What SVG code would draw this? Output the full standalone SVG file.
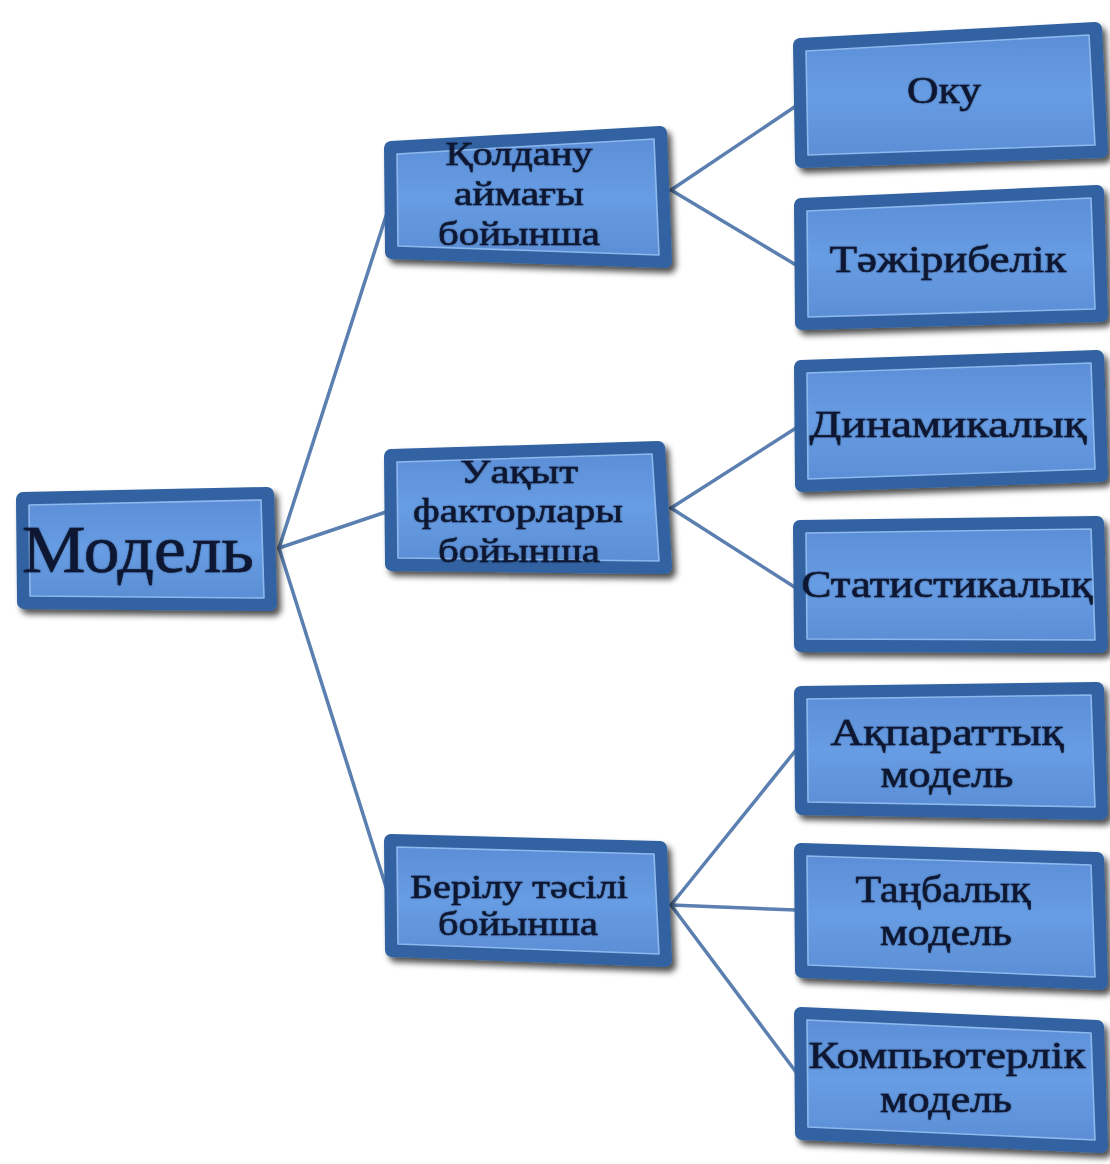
<svg xmlns="http://www.w3.org/2000/svg" width="1110" height="1164" viewBox="0 0 1110 1164">
<defs>
<linearGradient id="gOuter" x1="0" y1="0" x2="0.15" y2="1">
<stop offset="0" stop-color="#5286c8"/>
<stop offset="0.5" stop-color="#3b6cad"/>
<stop offset="1" stop-color="#22487f"/>
</linearGradient>
<linearGradient id="gFace" x1="0" y1="0" x2="0" y2="1">
<stop offset="0" stop-color="#5b8ed6"/>
<stop offset="0.5" stop-color="#679de4"/>
<stop offset="1" stop-color="#5b8ed5"/>
</linearGradient>
<filter id="shadow" x="-10%" y="-10%" width="125%" height="130%">
<feGaussianBlur in="SourceAlpha" stdDeviation="3"/>
<feOffset dx="4" dy="5" result="b"/>
<feComponentTransfer><feFuncA type="linear" slope="0.7"/></feComponentTransfer>
<feMerge><feMergeNode/><feMergeNode in="SourceGraphic"/></feMerge>
</filter>
<filter id="glow" x="-5%" y="-20%" width="110%" height="140%">
<feGaussianBlur in="SourceAlpha" stdDeviation="1.2"/>
<feComponentTransfer><feFuncA type="linear" slope="0.35"/></feComponentTransfer>
<feMerge><feMergeNode/><feMergeNode in="SourceGraphic"/></feMerge>
</filter>
</defs>
<style>
.outer{fill:url(#gOuter);stroke:#3062a2;stroke-width:14;stroke-linejoin:round;filter:url(#shadow)}
.face{fill:url(#gFace);stroke:#8db8ee;stroke-width:1.6;stroke-linejoin:round}
.t{font-family:"Liberation Serif","Times New Roman",serif;fill:#0c1730;stroke:#0c1730;stroke-width:0.6;text-anchor:middle;filter:url(#glow)}
.m{font-size:34px}
.r{font-size:37px}
.big{font-size:68px}
.conn line{stroke:#5a7fb0;stroke-width:3.5;stroke-linecap:round}
</style>
<rect width="1110" height="1164" fill="#ffffff"/>
<g id="connectors" class="conn">
<line x1="279" y1="548" x2="386" y2="216"/>
<line x1="279" y1="548" x2="386" y2="512"/>
<line x1="279" y1="548" x2="386" y2="887"/>
<line x1="671" y1="190" x2="796" y2="106"/>
<line x1="671" y1="190" x2="796" y2="265"/>
<line x1="671" y1="508" x2="796" y2="428"/>
<line x1="671" y1="508" x2="796" y2="588"/>
<line x1="671" y1="905" x2="796" y2="750"/>
<line x1="671" y1="905" x2="796" y2="910"/>
<line x1="671" y1="905" x2="796" y2="1072"/>
</g>
<g id="n-model">
<polygon class="outer" points="23,499 267,494 270,604 24,602"/>
<polygon class="face" points="29,505 261,500 264,598 30,596"/>
<text class="t big" x="138" y="572" textLength="232" lengthAdjust="spacingAndGlyphs">Модель</text>
</g>
<g id="n-qoldanu">
<polygon class="outer" points="391,148 660,133 665,261 392,252"/>
<polygon class="face" points="397,154 654,139 659,255 398,246"/>
<text class="t m" x="519" y="165" textLength="147" lengthAdjust="spacingAndGlyphs">Қолдану</text>
<text class="t m" x="519" y="205" textLength="130" lengthAdjust="spacingAndGlyphs">аймағы</text>
<text class="t m" x="519" y="245" textLength="162" lengthAdjust="spacingAndGlyphs">бойынша</text>
</g>
<g id="n-uaqyt">
<polygon class="outer" points="391,456 658,448 665,567 392,564"/>
<polygon class="face" points="397,462 652,454 659,561 398,558"/>
<text class="t m" x="519" y="483" textLength="118" lengthAdjust="spacingAndGlyphs">Уақыт</text>
<text class="t m" x="518" y="522" textLength="210" lengthAdjust="spacingAndGlyphs">факторлары</text>
<text class="t m" x="519" y="562" textLength="162" lengthAdjust="spacingAndGlyphs">бойынша</text>
</g>
<g id="n-berilu">
<polygon class="outer" points="391,841 660,848 665,960 392,950"/>
<polygon class="face" points="397,847 654,854 659,954 398,944"/>
<text class="t m" x="519" y="898" textLength="218" lengthAdjust="spacingAndGlyphs">Берілу тәсілі</text>
<text class="t m" x="518" y="935" textLength="160" lengthAdjust="spacingAndGlyphs">бойынша</text>
</g>
<g id="n-oku">
<polygon class="outer" points="800,45 1095,29 1101,151 802,161"/>
<polygon class="face" points="806,51 1089,35 1095,145 808,155"/>
<text class="t r" x="944" y="103" textLength="74" lengthAdjust="spacingAndGlyphs">Оку</text>
</g>
<g id="n-tazhiribelik">
<polygon class="outer" points="801,205 1097,192 1101,315 802,323"/>
<polygon class="face" points="807,211 1091,198 1095,309 808,317"/>
<text class="t r" x="948" y="272" textLength="237" lengthAdjust="spacingAndGlyphs">Тәжірибелік</text>
</g>
<g id="n-dinamikalyq">
<polygon class="outer" points="801,367 1097,357 1101,475 802,485"/>
<polygon class="face" points="807,373 1091,363 1095,469 808,479"/>
<text class="t r" x="948" y="437" textLength="277" lengthAdjust="spacingAndGlyphs">Динамикалық</text>
</g>
<g id="n-statistikalyq">
<polygon class="outer" points="800,527 1097,523 1101,646 801,645"/>
<polygon class="face" points="806,533 1091,529 1095,640 807,639"/>
<text class="t r" x="947" y="597" textLength="291" lengthAdjust="spacingAndGlyphs">Статистикалық</text>
</g>
<g id="n-aqparattyq">
<polygon class="outer" points="801,693 1097,689 1101,813 802,808"/>
<polygon class="face" points="807,699 1091,695 1095,807 808,802"/>
<text class="t r" x="947" y="745" textLength="233" lengthAdjust="spacingAndGlyphs">Ақпараттық</text>
<text class="t r" x="947" y="787" textLength="133" lengthAdjust="spacingAndGlyphs">модель</text>
</g>
<g id="n-tangbalyq">
<polygon class="outer" points="801,850 1097,859 1101,983 802,971"/>
<polygon class="face" points="807,856 1091,865 1095,977 808,965"/>
<text class="t r" x="943" y="902" textLength="175" lengthAdjust="spacingAndGlyphs">Таңбалық</text>
<text class="t r" x="946" y="945" textLength="132" lengthAdjust="spacingAndGlyphs">модель</text>
</g>
<g id="n-kompyuterlik">
<polygon class="outer" points="801,1014 1097,1027 1101,1146 802,1133"/>
<polygon class="face" points="807,1020 1091,1033 1095,1140 808,1127"/>
<text class="t r" x="947" y="1068" textLength="277" lengthAdjust="spacingAndGlyphs">Компьютерлік</text>
<text class="t r" x="946" y="1112" textLength="132" lengthAdjust="spacingAndGlyphs">модель</text>
</g>
</svg>
